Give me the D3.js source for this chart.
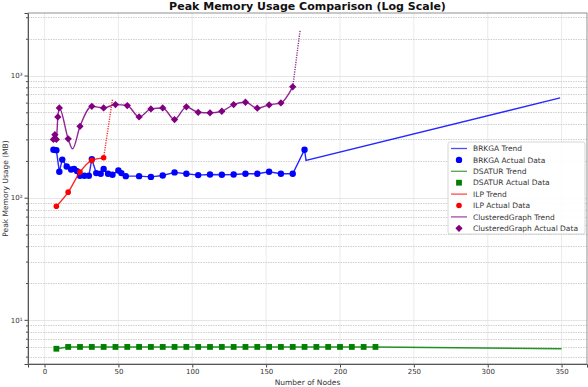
<!DOCTYPE html>
<html>
<head>
<meta charset="utf-8">
<script src="https://cdn.jsdelivr.net/npm/d3@7"></script>
<style>
  body { margin: 0; background: #fff; }
  svg { font-family: "DejaVu Sans", sans-serif; }
</style>
</head>
<body>
<div id="viz"></div>
<script>
// data
var brkgaNodes = [6, 8, 10, 12, 15, 18, 20, 22, 24, 27, 30, 32, 35, 38, 40, 43, 46, 50, 52, 55,
                  64, 72, 80, 88, 96, 104, 112, 120, 128, 136, 144, 152, 160, 168, 176];
var brkgaMem   = [247, 245, 163, 205, 180, 170, 172, 165, 151, 151, 151, 207, 159, 157, 172, 157, 154, 167, 159, 150,
                  150, 148, 152, 161, 157, 153, 155, 154, 155, 157, 157, 163, 157, 157, 247];
var brkgaExtNodes = [177, 349];
var brkgaExtMem   = [202, 656];

var dsaturNodes = [8, 16, 24, 32, 40, 48, 56, 64, 72, 80, 88, 96, 104, 112, 120, 128, 136, 144,
                   152, 160, 168, 176, 184, 192, 200, 208, 216, 224];
var dsaturMem   = [5.8, 6.0, 6.0, 6.0, 6.0, 6.0, 6.0, 6.0, 6.0, 6.0, 6.0, 6.0, 6.0, 6.0, 6.0, 6.0, 6.0, 6.0,
                   6.0, 6.0, 6.0, 6.0, 6.0, 6.0, 6.0, 6.0, 6.0, 6.0];
var dsaturExtNodes = [350];
var dsaturExtMem   = [5.8];

var ilpNodes = [8, 16, 24, 32, 40];
var ilpMem   = [85, 111, 162, 202, 212];
var ilpExtNodes = [46];
var ilpExtMem   = [640];

var cgNodes = [6, 7, 8, 9, 10, 16, 24, 32, 40, 48, 56, 64, 72, 80, 88, 96, 104, 112, 120, 128,
               136, 144, 152, 160, 168];
var cgMem   = [300, 328, 300, 458, 543, 303, 384, 560, 543, 578, 568, 458, 533, 543, 436, 554, 500, 495, 510, 578,
               604, 540, 575, 597, 808];
var cgDipNodes = [19];
var cgDipMem   = [251];
var cgExtNodes = [173];
var cgExtMem   = [2350];

var xTicks = [0, 50, 100, 150, 200, 250, 300, 350];
var yTicks = [10, 100, 1000];
var yTickLabels = ["10\u00b9", "10\u00b2", "10\u00b3"];

var legendLabels = ["BRKGA Trend", "BRKGA Actual Data", "DSATUR Trend", "DSATUR Actual Data",
                    "ILP Trend", "ILP Actual Data", "ClusteredGraph Trend", "ClusteredGraph Actual Data"];

var w = 588, h = 387;
var plotL = 28, plotR = 587, plotT = 13, plotB = 364;

var svg = d3.select("#viz").append("svg")
    .attr("width", w)
    .attr("height", h);

var x = d3.scaleLinear().domain([-11.2, 367.2]).range([plotL, plotR]);
var y = d3.scaleLog().domain([4.35, 3250]).range([plotB, plotT]);

function zip(a, b) { return a.map(function(d, i) { return [d, b[i]]; }); }

// minor values for the log grid
var minor = [];
[1, 10, 100, 1000].forEach(function(p) {
  for (var m = 2; m <= 9; m++) {
    var v = m * p;
    if (v > 4.35 && v < 3250) minor.push(v);
  }
});

// grid
svg.append("g").selectAll("line")
  .data(xTicks).enter().append("line")
  .attr("x1", function(d) { return x(d); })
  .attr("x2", function(d) { return x(d); })
  .attr("y1", plotT).attr("y2", plotB)
  .style("stroke", "#e6e6e6")
  .style("stroke-width", 0.8);

svg.append("g").selectAll("line")
  .data(minor).enter().append("line")
  .attr("x1", plotL).attr("x2", plotR)
  .attr("y1", function(d) { return Math.round(y(d)) + 0.5; })
  .attr("y2", function(d) { return Math.round(y(d)) + 0.5; })
  .style("stroke", "#c4c4c4")
  .style("stroke-width", 0.8)
  .style("stroke-dasharray", "1.5,1");

svg.append("g").selectAll("line")
  .data(yTicks).enter().append("line")
  .attr("x1", plotL).attr("x2", plotR)
  .attr("y1", function(d) { return Math.round(y(d)) + 0.5; })
  .attr("y2", function(d) { return Math.round(y(d)) + 0.5; })
  .style("stroke", "#e0e0e0")
  .style("stroke-width", 0.8);

// axes
svg.append("g")
  .attr("transform", "translate(0," + plotB + ")")
  .call(d3.axisBottom(x).tickValues(xTicks).tickSize(3.5).tickPadding(2).tickFormat(d3.format("d")));
svg.append("g")
  .attr("transform", "translate(" + plotL + ",0)")
  .call(d3.axisLeft(y).tickValues(yTicks).tickSize(3.5).tickPadding(2)
    .tickFormat(function(d, i) { return yTickLabels[i]; }));
svg.append("g")
  .attr("transform", "translate(" + plotL + ",0)")
  .call(d3.axisLeft(y).tickValues(minor).tickSize(2).tickFormat(""))
  .select(".domain").remove();

svg.selectAll(".tick text")
  .style("font-size", "7px")
  .style("fill", "#333")
  .style("font-family", "DejaVu Sans");
svg.selectAll(".tick line").style("stroke", "#444");
svg.selectAll(".domain").style("stroke", "#444");

// plot frame
svg.append("rect")
  .attr("x", plotL).attr("y", plotT)
  .attr("width", plotR - plotL).attr("height", plotB - plotT)
  .style("fill", "none")
  .style("stroke", "#777")
  .style("stroke-width", 0.8);

// lines
var line = d3.line()
  .x(function(d) { return x(d[0]); })
  .y(function(d) { return y(d[1]); });
var smooth = d3.line()
  .x(function(d) { return x(d[0]); })
  .y(function(d) { return y(d[1]); })
  .curve(d3.curveMonotoneX);

function trend(pts, color, gen, dash) {
  svg.append("path")
    .attr("d", gen(pts))
    .style("fill", "none")
    .style("stroke", color)
    .style("stroke-width", 1.4)
    .style("stroke-opacity", 0.85)
    .style("stroke-dasharray", dash || null);
}

// BRKGA
var brkga = zip(brkgaNodes, brkgaMem);
trend(brkga.concat(zip(brkgaExtNodes, brkgaExtMem)), "blue", line);
svg.append("g").selectAll("circle")
  .data(brkga).enter().append("circle")
  .attr("cx", function(d) { return x(d[0]); })
  .attr("cy", function(d) { return y(d[1]); })
  .attr("r", 3.2)
  .style("fill", "blue");

// DSATUR
var dsatur = zip(dsaturNodes, dsaturMem);
trend(dsatur.concat(zip(dsaturExtNodes, dsaturExtMem)), "green", line);
svg.append("g").selectAll("rect")
  .data(dsatur).enter().append("rect")
  .attr("x", function(d) { return x(d[0]) - 2.9; })
  .attr("y", function(d) { return y(d[1]) - 2.9; })
  .attr("width", 5.8).attr("height", 5.8)
  .style("fill", "green");

// ILP
var ilp = zip(ilpNodes, ilpMem);
trend(ilp, "red", smooth);
trend([ilp[ilp.length - 1]].concat(zip(ilpExtNodes, ilpExtMem)), "red", line, "1.2,1.2");
svg.append("g").selectAll("circle")
  .data(ilp).enter().append("circle")
  .attr("cx", function(d) { return x(d[0]); })
  .attr("cy", function(d) { return y(d[1]); })
  .attr("r", 2.8)
  .style("fill", "red");

// ClusteredGraph
var cg = zip(cgNodes, cgMem);
var cgTrend = cg.concat(zip(cgDipNodes, cgDipMem)).sort(function(a, b) { return a[0] - b[0]; });
trend(cgTrend, "purple", smooth);
trend([cg[cg.length - 1]].concat(zip(cgExtNodes, cgExtMem)), "purple", line, "1.2,1.2");
var diamond = d3.symbol().type(d3.symbolDiamond2).size(34);
svg.append("g").selectAll("path")
  .data(cg).enter().append("path")
  .attr("d", diamond)
  .attr("transform", function(d) { return "translate(" + x(d[0]) + "," + y(d[1]) + ")"; })
  .style("fill", "purple");

// labels
svg.append("text")
  .attr("x", (plotL + plotR) / 2).attr("y", 9.5)
  .attr("text-anchor", "middle")
  .style("font-size", "11px").style("font-weight", "bold").style("fill", "#111")
  .text("Peak Memory Usage Comparison (Log Scale)");
svg.append("text")
  .attr("x", (plotL + plotR) / 2).attr("y", 385)
  .attr("text-anchor", "middle")
  .style("font-size", "7.5px").style("fill", "#333")
  .text("Number of Nodes");
svg.append("text")
  .attr("transform", "translate(7.5," + ((plotT + plotB) / 2) + ") rotate(-90)")
  .attr("text-anchor", "middle")
  .style("font-size", "7.5px").style("fill", "#333")
  .text("Peak Memory Usage (MB)");

// legend
var lg = svg.append("g").attr("transform", "translate(448,142)");
lg.append("rect")
  .attr("width", 137).attr("height", 92).attr("rx", 2)
  .style("fill", "#fff").style("fill-opacity", 0.9)
  .style("stroke", "#ccc").style("stroke-width", 0.8);
var colors = ["blue", "blue", "green", "green", "red", "red", "purple", "purple"];
legendLabels.forEach(function(label, i) {
  var cy = 6.5 + i * 11.4;
  var c = colors[i];
  if (i % 2 === 0) {
    lg.append("line")
      .attr("x1", 3).attr("x2", 19).attr("y1", cy).attr("y2", cy)
      .style("stroke", c).style("stroke-width", 1.3).style("stroke-opacity", 0.7);
  } else if (i === 1) {
    lg.append("circle").attr("cx", 11).attr("cy", cy).attr("r", 3.2).style("fill", c);
  } else if (i === 3) {
    lg.append("rect").attr("x", 8.1).attr("y", cy - 2.9).attr("width", 5.8).attr("height", 5.8).style("fill", c);
  } else if (i === 5) {
    lg.append("circle").attr("cx", 11).attr("cy", cy).attr("r", 2.8).style("fill", c);
  } else {
    lg.append("path").attr("d", diamond).attr("transform", "translate(11," + cy + ")").style("fill", c);
  }
  lg.append("text")
    .attr("x", 25).attr("y", cy + 2.6)
    .style("font-size", "7.5px").style("fill", "#333")
    .text(label);
});
</script>
</body>
</html>
